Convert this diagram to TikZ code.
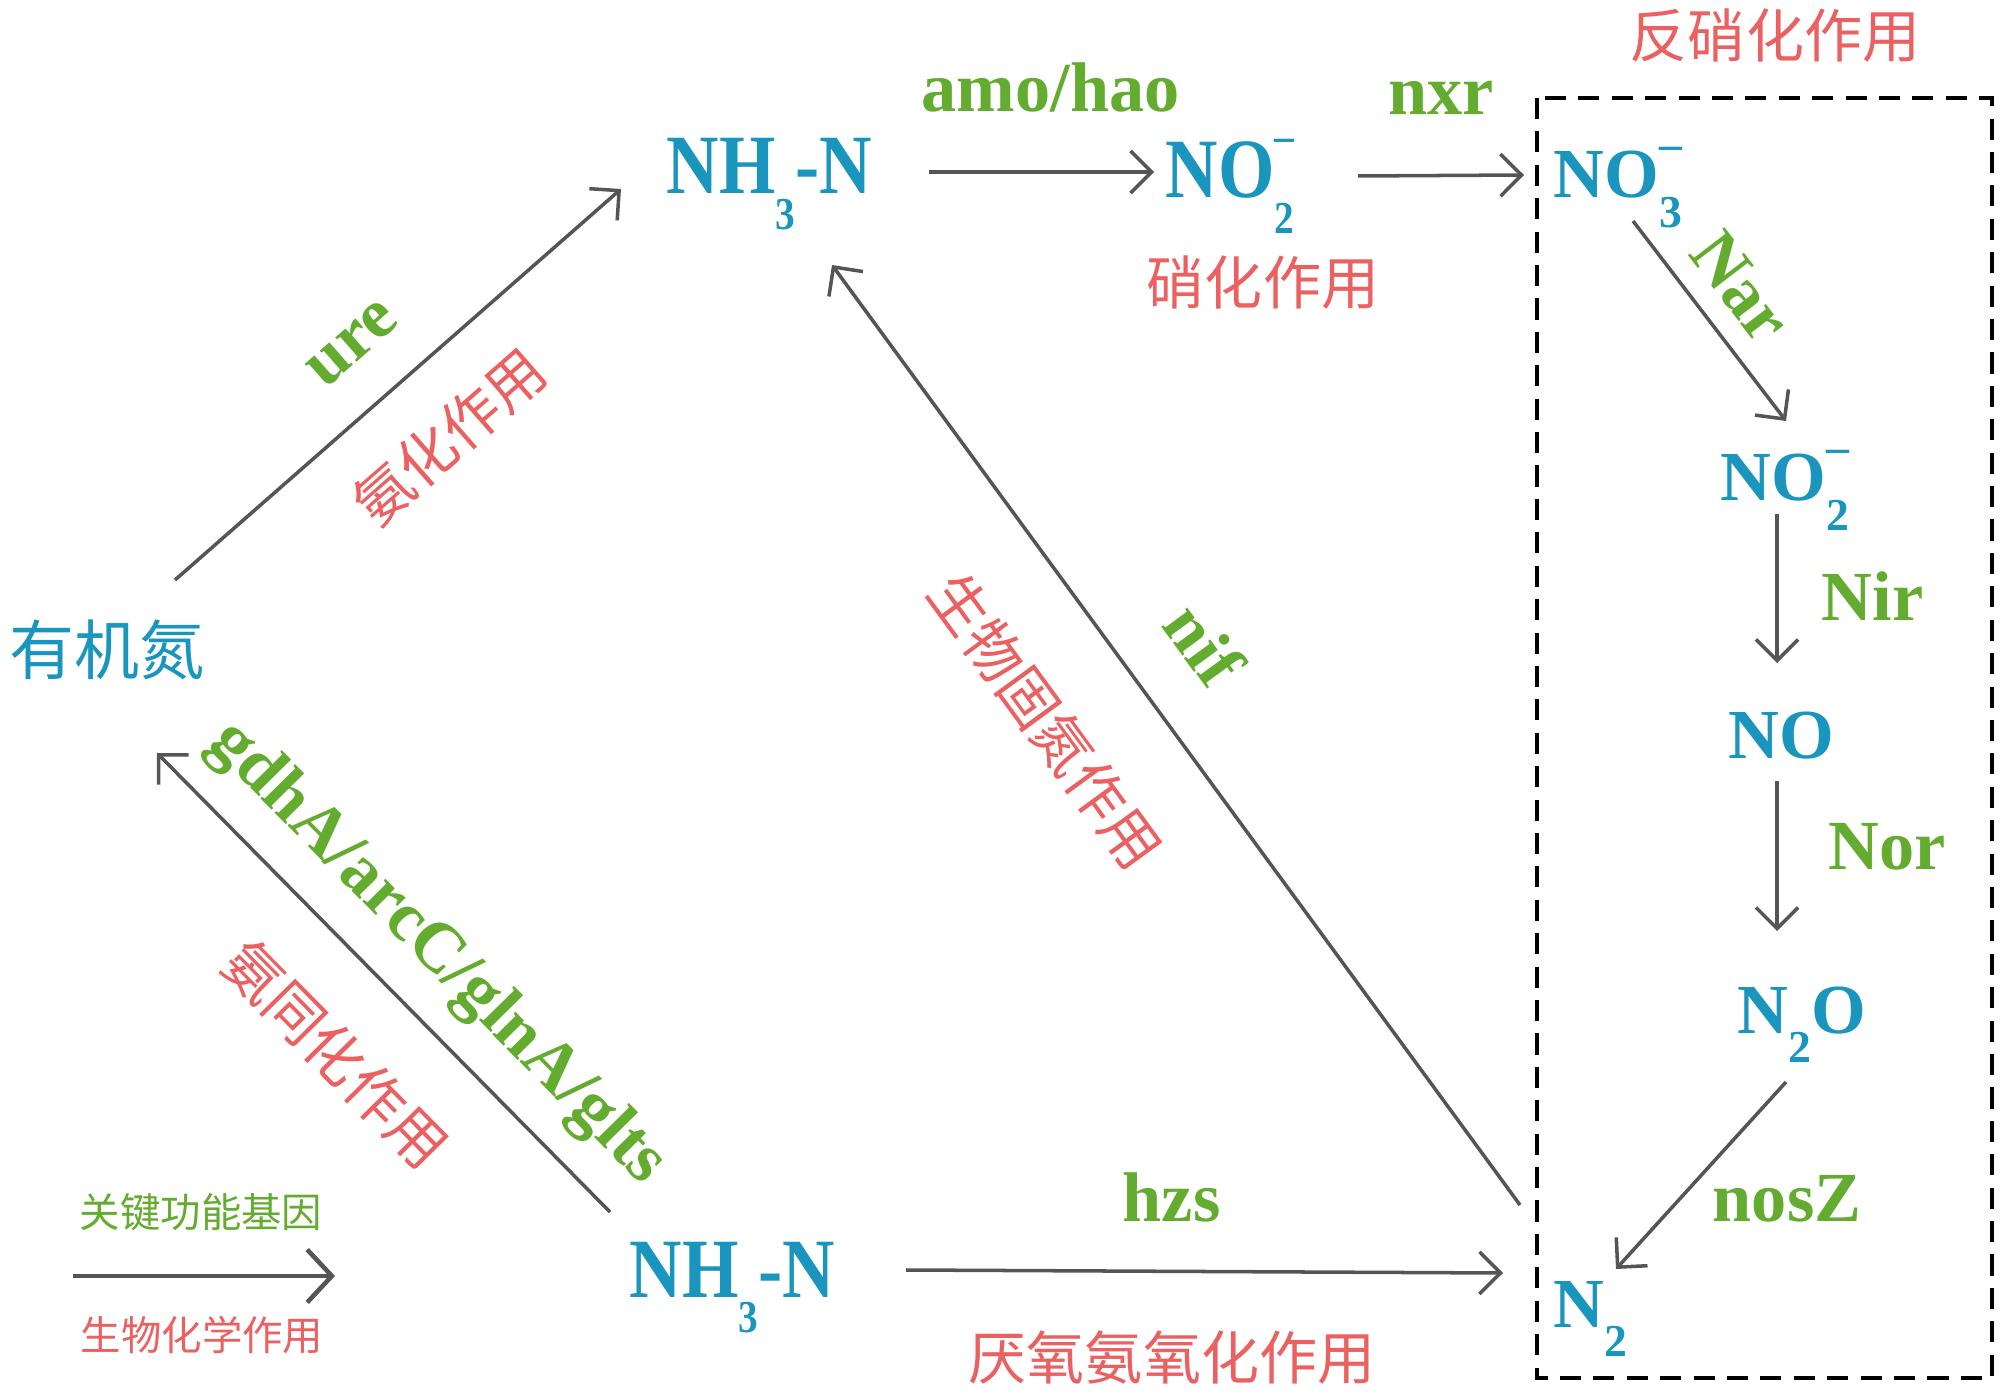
\documentclass[tikz,border=0pt]{standalone}
\usepackage{fontspec}
\setmainfont{Liberation Serif}
\newfontfamily\cjk{Noto Sans CJK SC}
\usetikzlibrary{arrows.meta}
\definecolor{tealc}{RGB}{26,150,190}
\definecolor{grnc}{RGB}{100,172,48}
\definecolor{redc}{RGB}{235,96,96}
\definecolor{arrc}{RGB}{85,85,85}
\newcommand{\lsub}[1]{\raisebox{-0.42em}{\fontsize{13}{13}\selectfont #1}}
\newcommand{\ionx}[2]{\rlap{\raisebox{-0.42em}{\fontsize{13}{13}\selectfont #1}}\raisebox{0.55em}{\fontsize{13}{13}\selectfont #2}}
\newcommand{\cond}[1]{\scalebox{0.86}[1]{#1}}
\begin{document}
\begin{tikzpicture}[x=0.01cm,y=-0.01cm,
  sp/.style={text=tealc,font=\bfseries\fontsize{20}{20}\selectfont,inner sep=0pt},
  spc/.style={text=tealc,font=\bfseries\fontsize{24}{24}\selectfont,inner sep=0pt},
  gene/.style={text=grnc,font=\bfseries\fontsize{20}{20}\selectfont,inner sep=0pt},
  proc/.style={text=redc,font=\cjk\fontsize{16.5}{16.5}\selectfont,inner sep=0pt},
  leg/.style={text=#1,font=\cjk\fontsize{11.5}{11.5}\selectfont,inner sep=0pt},
  conn/.style={draw=arrc,line width=1pt,-{Straight Barb[length=6pt,width=12pt]}}]
\useasboundingbox (0,0) rectangle (2000,1395);
% species
\node[text=tealc,font=\cjk\fontsize{18.5}{18.5}\selectfont,inner sep=0pt] (org) at (107,650) {有机氮};
\node[spc,anchor=base west] (nh3t) at (666,194) {\cond{NH\lsub{3}-N}};
\node[spc,anchor=base west] (no2t) at (1165,198) {\cond{NO\ionx{2}{–}}};
\node[sp,anchor=base west] (no3) at (1553,198) {NO\ionx{3}{–}};
\node[sp,anchor=base west] (no2r) at (1720,501) {NO\ionx{2}{–}};
\node[sp,anchor=base west] (no) at (1728,759) {NO};
\node[sp,anchor=base west] (n2o) at (1737,1033) {N\lsub{2}O};
\node[sp,anchor=base west] (n2) at (1553,1327) {N\lsub{2}};
\node[spc,anchor=base west] (nh3b) at (629,1297) {\cond{NH\lsub{3}-N}};
% dashed box
\draw[black,line width=1.1pt,dash pattern=on 6pt off 3.5pt] (1537,98) rectangle (1992,1378);
% genes
\node[gene,anchor=base west] (g1) at (921,112) {amo/hao};
\node[gene,anchor=base west] (g2) at (1388,115) {nxr};
\node[gene,rotate=-52.6] (g3) at (1741,287) {Nar};
\node[gene,anchor=base west] (g4) at (1821,621) {Nir};
\node[gene,anchor=base west] (g5) at (1828,870) {Nor};
\node[gene,anchor=base west] (g6) at (1712,1221) {nosZ};
\node[gene,anchor=base west] (g7) at (1122,1221) {hzs};
\node[gene,rotate=-53.8] (g8) at (1205,644) {nif};
\node[gene,rotate=41.2] (g9) at (353,344) {ure};
\node[gene,rotate=-45.4] (g10) at (437,954) {gdhA/arcC/glnA/glts};
% processes
\node[proc] (p1) at (1775,36) {反硝化作用};
\node[proc] (p2) at (1263,283) {硝化作用};
\node[proc,rotate=41.2] (p3) at (449,437) {氨化作用};
\node[proc,rotate=-53.8] (p4) at (1046,721) {生物固氮作用};
\node[proc,rotate=-45.4] (p5) at (336,1054) {氨同化作用};
\node[proc] (p6) at (1172,1358) {厌氧氨氧化作用};
% legend
\node[leg=grnc] (l1) at (201,1212) {关键功能基因};
\node[leg=redc] (l2) at (202,1335) {生物化学作用};
% arrow endpoints
\coordinate (a1s) at (175,580); \coordinate (a1e) at (621,189);
\coordinate (a2s) at (929,172); \coordinate (a2e) at (1154,172);
\coordinate (a3s) at (1358,176); \coordinate (a3e) at (1524,175);
\coordinate (a4s) at (1633,221); \coordinate (a4e) at (1786,421);
\coordinate (a5s) at (1777,514); \coordinate (a5e) at (1777,663);
\coordinate (a6s) at (1777,781); \coordinate (a6e) at (1777,931);
\coordinate (a7s) at (1786,1082); \coordinate (a7e) at (1616,1269);
\coordinate (a8s) at (1520,1205); \coordinate (a8e) at (832,265);
\coordinate (a9s) at (610,1212); \coordinate (a9e) at (157,753);
\coordinate (a10s) at (906,1270); \coordinate (a10e) at (1503,1273);
\coordinate (lgs) at (73,1276); \coordinate (lge) at (335,1276);
\draw[conn] (a1s) -- (a1e);
\draw[conn] (a2s) -- (a2e);
\draw[conn] (a3s) -- (a3e);
\draw[conn] (a4s) -- (a4e);
\draw[conn] (a5s) -- (a5e);
\draw[conn] (a6s) -- (a6e);
\draw[conn] (a7s) -- (a7e);
\draw[conn] (a8s) -- (a8e);
\draw[conn] (a9s) -- (a9e);
\draw[conn] (a10s) -- (a10e);
\draw[conn,line width=1.3pt,-{Straight Barb[length=7pt,width=15pt]}] (lgs) -- (lge);
\end{tikzpicture}
\end{document}
